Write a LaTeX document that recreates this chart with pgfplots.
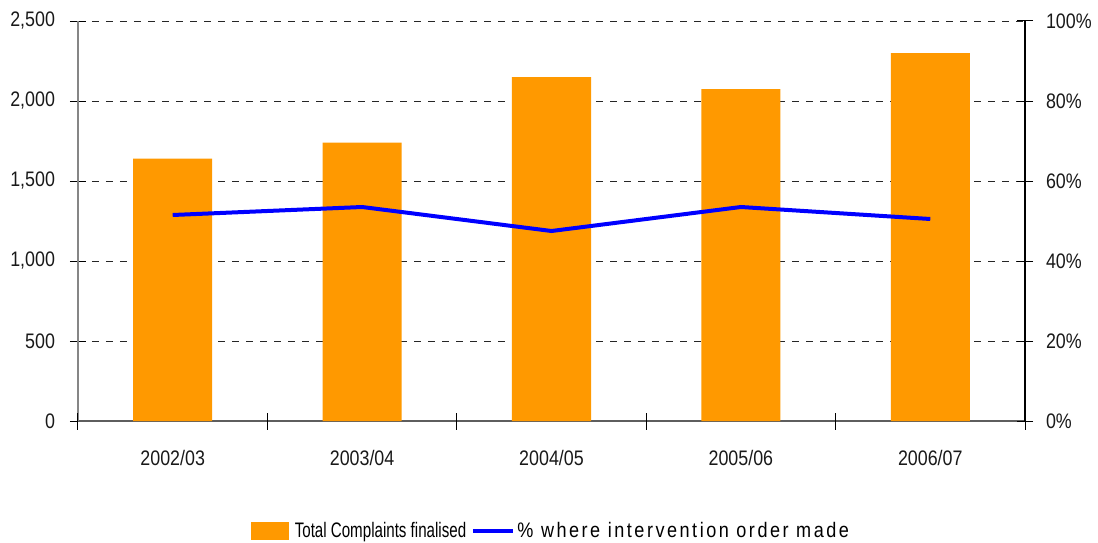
\documentclass[border=0pt]{standalone}
\usepackage{fontspec}
\setmainfont{Liberation Sans}[FakeStretch=0.85]
\newfontfamily\legfonta{Liberation Sans}[FakeStretch=0.72]
\newfontfamily\legfontb{Liberation Sans}[FakeStretch=0.86, LetterSpace=12]
\usepackage{pgfplots}
\pgfplotsset{compat=1.18}
\definecolor{barorange}{HTML}{FF9900}
\definecolor{axgray}{HTML}{868686}
\begin{document}
\begin{tikzpicture}
\path[use as bounding box] (-39pt,-60.5pt) rectangle (510pt,210.5pt);
\begin{axis}[
  at={(0,0)}, anchor=south west,
  width=473.5pt, height=200pt, scale only axis,
  xmin=-0.5, xmax=4.5, ymin=0, ymax=2500,
  axis y line*=left, axis x line*=bottom,
  y axis line style={draw=axgray, line width=0.8pt},
  x axis line style={draw=axgray!70!black, line width=0.8pt},
  xtick={0,1,2,3,4},
  xticklabels={2002/03,2003/04,2004/05,2005/06,2006/07},
  xtick style={draw=none},
  extra x ticks={-0.5,0.5,1.5,2.5,3.5,4.5},
  extra x tick labels={},
  extra x tick style={xtick style={draw=black, line width=0.5pt}, major tick length=8.5pt, tick align=center},
  ytick={0,500,1000,1500,2000,2500},
  ytick style={draw=black, line width=0.5pt},
  tick align=center, major tick length=8pt,
  scaled y ticks=false,
  /pgf/number format/.cd, 1000 sep={,}, assume math mode=true, /pgfplots/.cd,
  tick label style={font=\fontsize{10.5}{12}\selectfont, text=black!90},
  yticklabel style={xshift=-4pt},
  xticklabel style={yshift=-7pt},
  ymajorgrids,
  grid style={black!85, line width=0.5pt, dash pattern=on 3.5pt off 3.5pt},
]
\addplot[ybar, bar width=39.5pt, fill=barorange, draw=none, bar shift=0pt]
  coordinates {(0,1640) (1,1740) (2,2150) (3,2075) (4,2300)};
\end{axis}
\begin{axis}[
  at={(0,0)}, anchor=south west,
  width=473.5pt, height=200pt, scale only axis,
  xmin=-0.5, xmax=4.5, ymin=0, ymax=100,
  axis y line*=right, axis x line=none,
  y axis line style={draw=black, line width=0.8pt},
  ytick={0,20,40,60,80,100},
  ytick style={draw=black, line width=0.5pt},
  tick align=center, major tick length=8pt,
  /pgf/number format/.cd, assume math mode=true, /pgfplots/.cd,
  yticklabel={\pgfmathprintnumber{\tick}\%},
  tick label style={font=\fontsize{10.5}{12}\selectfont, text=black!90},
  yticklabel style={xshift=3pt},
  legend style={at={(0.5,-0.275)}, anchor=center, legend columns=2, draw=none,
    font=\fontsize{10.5}{12}\selectfont, nodes={inner xsep=1.5pt},
    /tikz/every even column/.append style={column sep=1pt}},
]
\addlegendimage{legend image code/.code={\fill[barorange] (0pt,-4.25pt) rectangle (18.5pt,4.25pt); \path (20pt,0pt);}}
\addlegendentry{\legfonta Total Complaints finalised}
\addplot[blue, line width=2pt, mark=none,
  legend image code/.code={\draw[blue, line width=1.6pt] (0pt,0pt) -- (20pt,0pt);}]
  coordinates {(0,51.5) (1,53.5) (2,47.5) (3,53.5) (4,50.5)};
\addlegendentry{\legfontb\% where intervention order made}
\end{axis}
\end{tikzpicture}
\end{document}
